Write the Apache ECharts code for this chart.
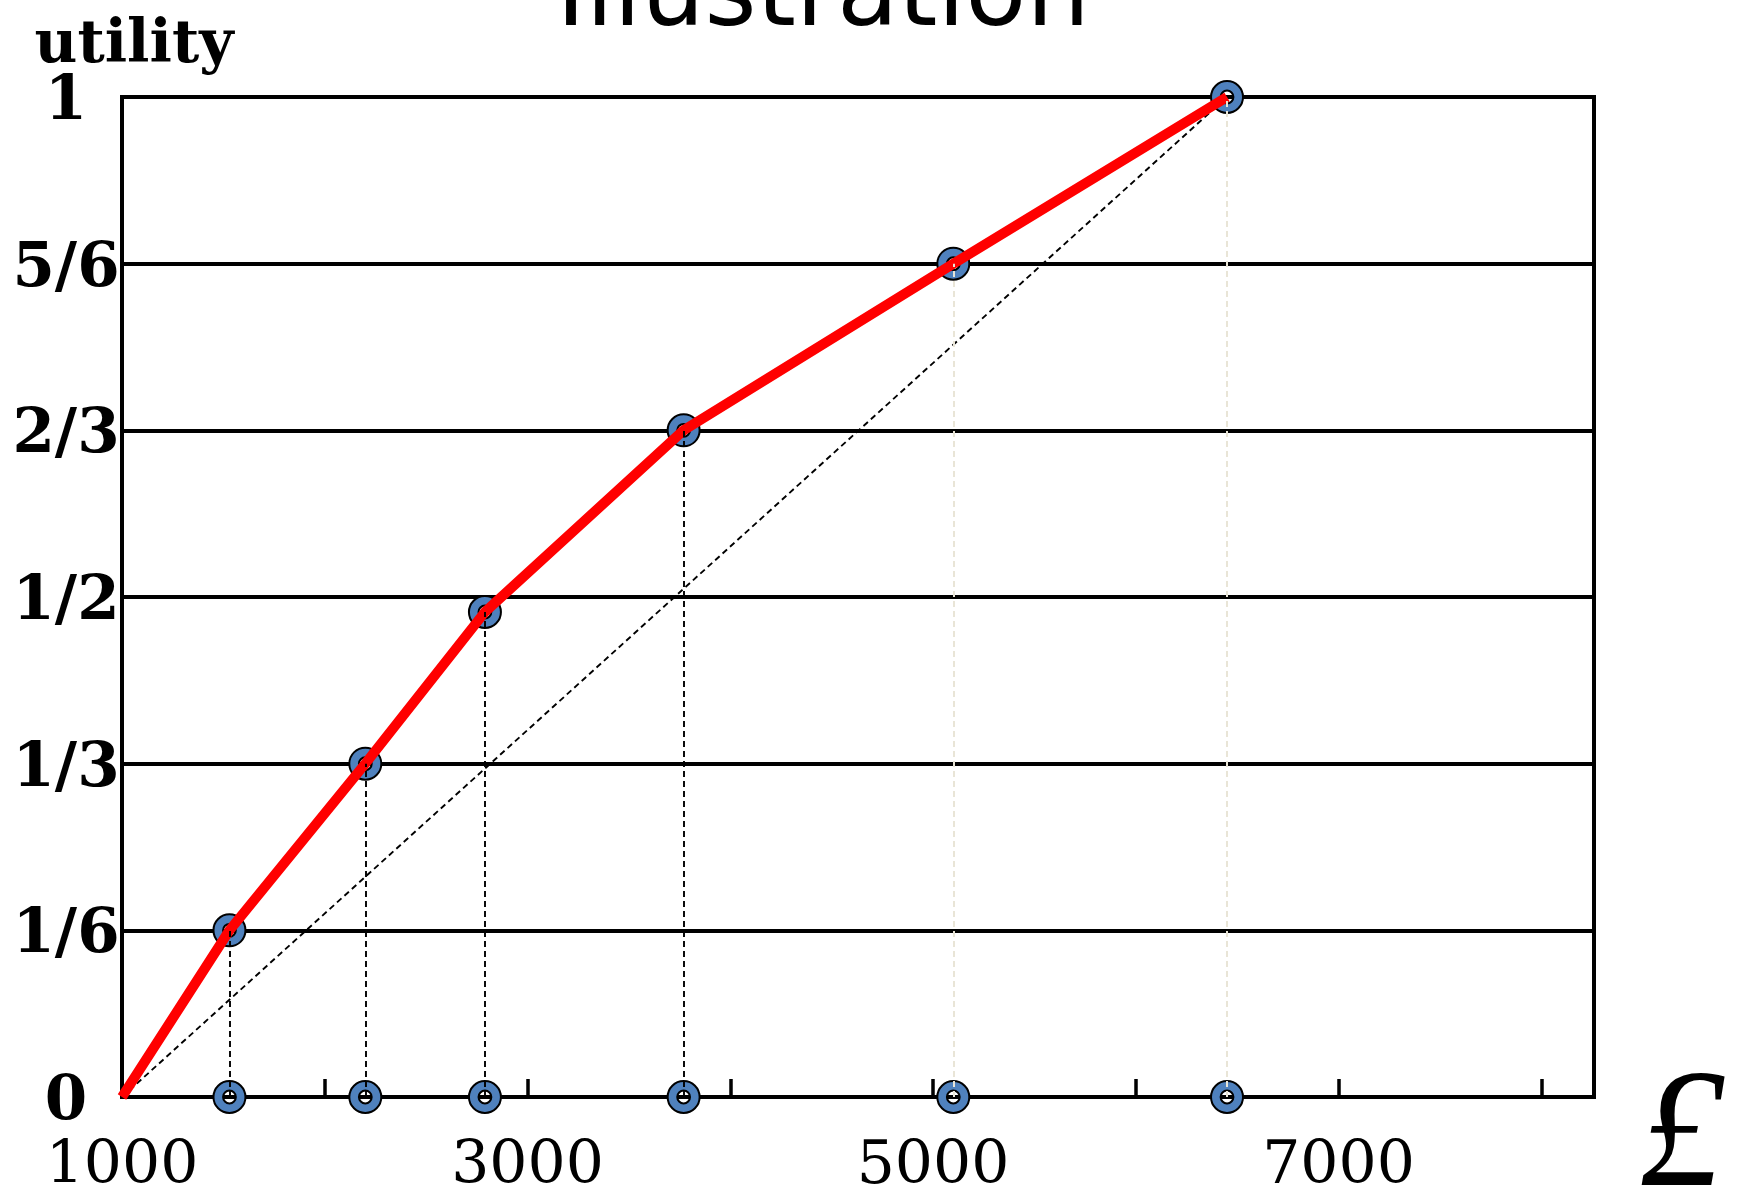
<!DOCTYPE html>
<html>
<head>
<meta charset="utf-8">
<script src="https://cdn.jsdelivr.net/npm/echarts@6/dist/echarts.min.js"></script>
<style>
  html, body { margin: 0; padding: 0; background: #fff; }
  #chart { width: 1738px; height: 1197px; }
</style>
</head>
<body>
<div id="chart"></div>
<script>
// ---- data ----
const moneyValues   = [1000, 1530, 2200, 2790, 3770, 5100, 6450];
const utilityValues = [0, 0.1667, 0.3333, 0.485, 0.6667, 0.8333, 1];
const xLabelValues  = [1000, 3000, 5000, 7000];
const yTickLabels   = ['0', '1/6', '1/3', '1/2', '2/3', '5/6', '1'];
const titleText = 'Illustration';
const yName = 'utility';
const xName = '£';
// indices of the points whose guide lines are faint
const faintGuides = [5, 6];

const curve = moneyValues.map((x, i) => [x, utilityValues[i]]);
const pointsOnCurve = curve.slice(1);
const pointsOnAxis = moneyValues.slice(1).map(x => [x, 0]);
const guideLines = moneyValues.slice(1).map((x, k) => {
  const i = k + 1;
  const faint = faintGuides.indexOf(i) >= 0;
  return [
    { coord: [x, 0], lineStyle: { color: faint ? '#e9e5d7' : '#000', width: faint ? 2 : 1.9, type: [6, 4] } },
    { coord: [x, utilityValues[i]] }
  ];
});
const diagonal = [curve[0], curve[curve.length - 1]];

const ringPath = 'path://M0,-15A15,15,0,1,1,0,15A15,15,0,1,1,0,-15ZM0,-6A6,6,0,1,0,0,6A6,6,0,1,0,0,-6Z';

const chart = echarts.init(document.getElementById('chart'), null, { renderer: 'canvas' });
const option = {
  animation: false,
  backgroundColor: '#ffffff',
  grid: {
    left: 122, right: 144, top: 97, bottom: 100,
    show: true, borderColor: '#000', borderWidth: 4, backgroundColor: 'transparent'
  },
  xAxis: {
    type: 'value',
    min: 1000, max: 8260, interval: 1000,
    axisLine: { show: true, lineStyle: { color: '#000', width: 4 } },
    axisTick: { show: true, inside: true, length: 18, lineStyle: { color: '#000', width: 3.5 } },
    splitLine: { show: false },
    axisLabel: {
      margin: 40,
      fontFamily: 'DejaVu Serif', fontSize: 60, color: '#000',
      formatter: v => xLabelValues.indexOf(v) >= 0 ? String(v) : ''
    }
  },
  yAxis: {
    type: 'value',
    min: 0, max: 1, interval: 1 / 6,
    axisLine: { show: true, lineStyle: { color: '#000', width: 4 } },
    axisTick: { show: false },
    splitLine: { show: true, lineStyle: { color: '#000', width: 4 } },
    axisLabel: {
      margin: 56, align: 'center', verticalAlign: 'top', lineHeight: 12,
      fontFamily: 'DejaVu Serif', fontWeight: 'bold', fontSize: 61, color: '#000',
      formatter: v => yTickLabels[Math.round(v * 6)]
    }
  },
  graphic: [
    { type: 'text', x: 823, y: -1, z: 100,
      style: { text: titleText, font: '100px "DejaVu Sans"', fill: '#000',
               align: 'center', verticalAlign: 'middle', textAlign: 'center', textVerticalAlign: 'middle' } },
    { type: 'text', x: 134, y: 47, z: 100,
      style: { text: yName, font: 'bold 59px "DejaVu Serif"', fill: '#000',
               align: 'center', verticalAlign: 'middle', textAlign: 'center', textVerticalAlign: 'middle' } },
    { type: 'text', x: 1682, y: 1140, z: 100,
      style: { text: xName, font: 'italic 170px "Liberation Serif"', fill: '#000',
               align: 'center', verticalAlign: 'middle', textAlign: 'center', textVerticalAlign: 'middle' } }
  ],
  series: [
    {
      name: 'guides', type: 'line', data: [], z: 2,
      markLine: { silent: true, symbol: 'none', label: { show: false },
                  emphasis: { disabled: true }, data: guideLines }
    },
    {
      name: 'diagonal', type: 'line', data: diagonal, z: 2, symbol: 'none',
      lineStyle: { color: '#000', width: 1.9, type: [6, 4] }
    },
    {
      name: 'axis points', type: 'scatter', data: pointsOnAxis, z: 3, clip: false,
      symbol: ringPath, symbolSize: 32,
      itemStyle: { color: '#4f81bd', borderColor: '#000', borderWidth: 2, opacity: 1 }
    },
    {
      name: 'curve points', type: 'scatter', data: pointsOnCurve, z: 3, clip: false,
      symbol: ringPath, symbolSize: 32,
      itemStyle: { color: '#4f81bd', borderColor: '#000', borderWidth: 2, opacity: 1 }
    },
    {
      name: 'utility curve', type: 'line', data: curve, z: 4, symbol: 'none', clip: false,
      lineStyle: { color: '#ff0000', width: 10, cap: 'butt', join: 'round' }
    }
  ]
};
chart.setOption(option);
</script>
</body>
</html>
